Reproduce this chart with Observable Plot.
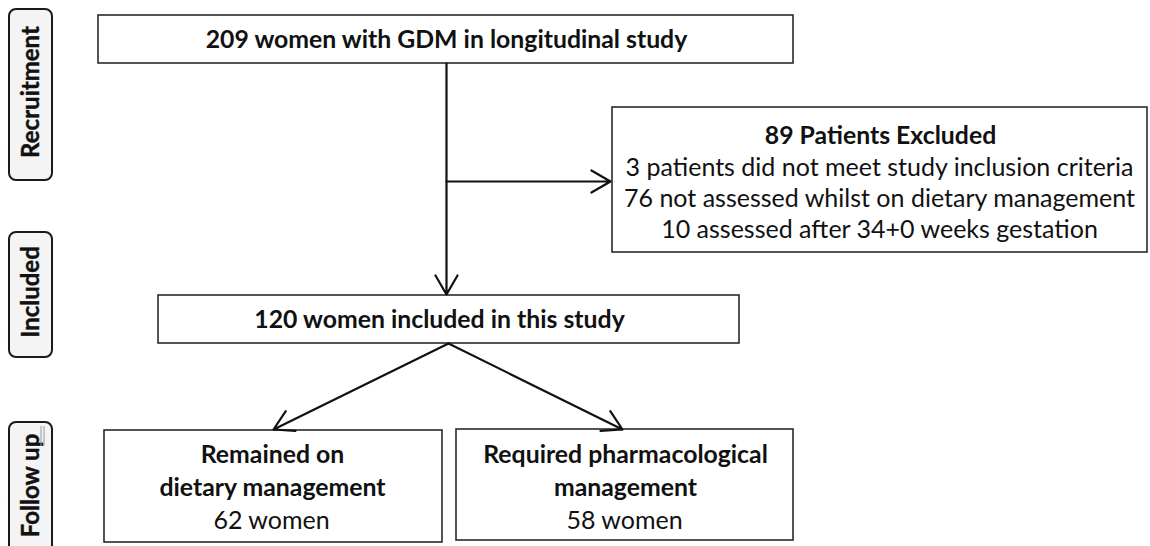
<!DOCTYPE html>
<html>
<head>
<meta charset="utf-8">
<script src="https://cdn.jsdelivr.net/npm/d3@7"></script>
<script src="https://cdn.jsdelivr.net/npm/@observablehq/plot@0.6"></script>
<style>
  html, body { margin: 0; padding: 0; background: #fff; }
  #chart { width: 1150px; height: 546px; overflow: hidden; }
</style>
</head>
<body>
<div id="chart"></div>
<script>
// ---- data ----
const stageLabels = ["Recruitment", "Included", "Follow up"];
const enrolledCount = 209;
const excludedCount = 89;
const includedCount = 120;
const exclusionCounts = [3, 76, 10];
const exclusionReasons = [
  "patients did not meet study inclusion criteria",
  "not assessed whilst on dietary management",
  "assessed after 34+0 weeks gestation"
];
const outcomeTitles = [["Remained on", "dietary management"], ["Required pharmacological", "management"]];
const outcomeCounts = [62, 58];

// ---- layout (flowchart geometry, pixel frame) ----
const stageBoxes = [
  {label: stageLabels[0], x1: 9, x2: 52, y1: 9, y2: 180},
  {label: stageLabels[1], x1: 9, x2: 52, y1: 232, y2: 357},
  {label: stageLabels[2], x1: 9, x2: 52, y1: 422, y2: 552}
];
const boxes = [
  {id: "top", x1: 98, x2: 793, y1: 15, y2: 63},
  {id: "excl", x1: 612, x2: 1147, y1: 107, y2: 252},
  {id: "incl", x1: 158, x2: 739, y1: 295, y2: 343},
  {id: "diet", x1: 104, x2: 442, y1: 430, y2: 542},
  {id: "pharm", x1: 456, x2: 793, y1: 429, y2: 540}
];
const arrows = [
  {x1: 446, y1: 63, x2: 446, y2: 294},
  {x1: 446, y1: 181, x2: 610, y2: 181},
  {x1: 448, y1: 343, x2: 273, y2: 429},
  {x1: 448, y1: 343, x2: 622, y2: 429}
];

const boldLines = [
  {text: `${enrolledCount} women with GDM in longitudinal study`, x: 446, y: 40},
  {text: `${excludedCount} Patients Excluded`, x: 880, y: 136},
  {text: `${includedCount} women included in this study`, x: 439, y: 320},
  {text: outcomeTitles[0][0], x: 272, y: 455},
  {text: outcomeTitles[0][1], x: 272, y: 488},
  {text: outcomeTitles[1][0], x: 625, y: 455},
  {text: outcomeTitles[1][1], x: 625, y: 488}
];
const regularLines = [
  ...exclusionReasons.map((r, i) => ({text: `${exclusionCounts[i]} ${r}`, x: 879, y: 167 + i * 31})),
  {text: `${outcomeCounts[0]} women`, x: 271, y: 520},
  {text: `${outcomeCounts[1]} women`, x: 624, y: 520}
];
const stageText = stageBoxes.map(d => ({label: d.label, x: 31, y: d.label === "Follow up" ? 485 : (d.y1 + d.y2) / 2 - 3}));
const underline = [{x: 40.5, y1: 426, y2: 446}, {x: 43.5, y1: 426, y2: 446}];

const font = "Lato, 'Open Sans', sans-serif";

const chart = Plot.plot({
  width: 1150,
  height: 546,
  margin: 0,
  x: {type: "linear", domain: [0, 1150], range: [0, 1150], axis: null},
  y: {type: "linear", domain: [0, 546], range: [0, 546], axis: null},
  style: {background: "#ffffff", fontFamily: font},
  marks: [
    Plot.rect(stageBoxes, {x1: "x1", x2: "x2", y1: "y1", y2: "y2", rx: 7, fill: "#f4f4f4", stroke: "#1a1a1a", strokeWidth: 2}),
    Plot.text(stageText, {x: "x", y: "y", text: "label", rotate: -90, fontSize: 24, fontWeight: "bold", fill: "#111", stroke: "#111", strokeWidth: 0.4, textAnchor: "middle", lineAnchor: "middle"}),
    Plot.ruleX(underline, {x: "x", y1: "y1", y2: "y2", stroke: "#999", strokeWidth: 1}),
    Plot.rect(boxes, {x1: "x1", x2: "x2", y1: "y1", y2: "y2", fill: "#fff", stroke: "#2a2a2a", strokeWidth: 1.6}),
    Plot.arrow(arrows, {x1: "x1", y1: "y1", x2: "x2", y2: "y2", stroke: "#111", strokeWidth: 2.2, headLength: 15, headAngle: 60}),
    Plot.text(boldLines, {x: "x", y: "y", text: "text", fontSize: 24.8, fontWeight: "bold", fill: "#111", textAnchor: "middle", lineAnchor: "middle"}),
    Plot.text(regularLines, {x: "x", y: "y", text: "text", fontSize: 25, fontWeight: "normal", fill: "#111", textAnchor: "middle", lineAnchor: "middle"})
  ]
});
document.getElementById("chart").appendChild(chart);
</script>
</body>
</html>
